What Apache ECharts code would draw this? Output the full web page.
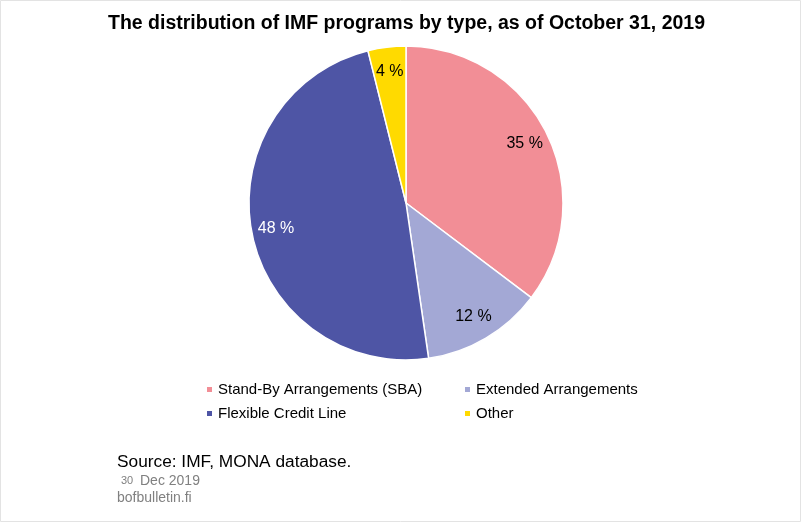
<!DOCTYPE html>
<html>
<head>
<meta charset="utf-8">
<script src="https://cdn.jsdelivr.net/npm/echarts@6/dist/echarts.min.js"></script>
<style>
html,body{margin:0;padding:0;background:#fff;}
#c{width:801px;height:523px;}
</style>
</head>
<body>
<div id="c"></div>
<script>
var categories = ['Stand-By Arrangements (SBA)', 'Extended Arrangements', 'Flexible Credit Line', 'Other'];
var shares = [35.3, 12.4, 48.4, 3.9];
var colors = ['#F28E96', '#A3A8D5', '#4E55A5', '#FFDA00'];
var labelColors = ['#000000', '#000000', '#ffffff', '#000000'];

var chart = echarts.init(document.getElementById('c'), null, {renderer: 'canvas'});
var font = 'Liberation Sans, Arial, sans-serif';

var mainData = categories.map(function (n, i) {
  return {name: n, value: shares[i], itemStyle: {color: colors[i]}};
});
var labelData = categories.map(function (n, i) {
  return {name: n, value: shares[i], label: {color: labelColors[i]}};
});

chart.setOption({
  backgroundColor: '#ffffff',
  animation: false,
  title: {
    text: 'The distribution of IMF programs by type, as of October 31, 2019',
    left: 103,
    top: 9,
    textStyle: {fontFamily: font, fontSize: 19.5, fontWeight: 'bold', color: '#000'}
  },
  legend: [{
    data: [categories[0], categories[2]],
    orient: 'vertical',
    left: 200,
    top: 377,
    itemWidth: 7, itemHeight: 7, itemGap: 9,
    icon: 'rect',
    selectedMode: false,
    textStyle: {fontFamily: font, fontSize: 15, color: '#000'}
  }, {
    data: [categories[1], categories[3]],
    orient: 'vertical',
    left: 458,
    top: 377,
    itemWidth: 7, itemHeight: 7, itemGap: 9,
    icon: 'rect',
    selectedMode: false,
    textStyle: {fontFamily: font, fontSize: 15, color: '#000'}
  }],
  series: [{
    type: 'pie',
    center: [406, 203],
    radius: [0, 157],
    startAngle: 90,
    clockwise: true,
    silent: true,
    label: {show: false},
    labelLine: {show: false},
    itemStyle: {borderColor: '#ffffff', borderWidth: 1.5},
    data: mainData
  }, {
    type: 'pie',
    center: [406, 203],
    radius: [102, 157],
    startAngle: 90,
    clockwise: true,
    silent: true,
    legendHoverLink: false,
    itemStyle: {color: 'rgba(0,0,0,0)', borderWidth: 0},
    label: {
      show: true,
      position: 'inside',
      fontFamily: font,
      fontSize: 16,
      formatter: function (p) { return Math.round(p.value) + ' %'; }
    },
    labelLine: {show: false},
    data: labelData
  }],
  graphic: [{
    type: 'rect',
    shape: {x: 0.5, y: 0.5, width: 800, height: 521},
    style: {fill: 'none', stroke: '#e3e3e3', lineWidth: 1},
    silent: true
  }, {
    type: 'text',
    left: 117, top: 454,
    style: {text: 'Source: IMF, MONA database.', font: '17.3px ' + font, fill: '#000'}
  }, {
    type: 'text',
    left: 121, top: 475,
    style: {text: '30', font: '11px ' + font, fill: '#808080'}
  }, {
    type: 'text',
    left: 140, top: 474,
    style: {text: 'Dec 2019', font: '14px ' + font, fill: '#808080'}
  }, {
    type: 'text',
    left: 117, top: 491,
    style: {text: 'bofbulletin.fi', font: '14px ' + font, fill: '#808080'}
  }]
});
</script>
</body>
</html>
